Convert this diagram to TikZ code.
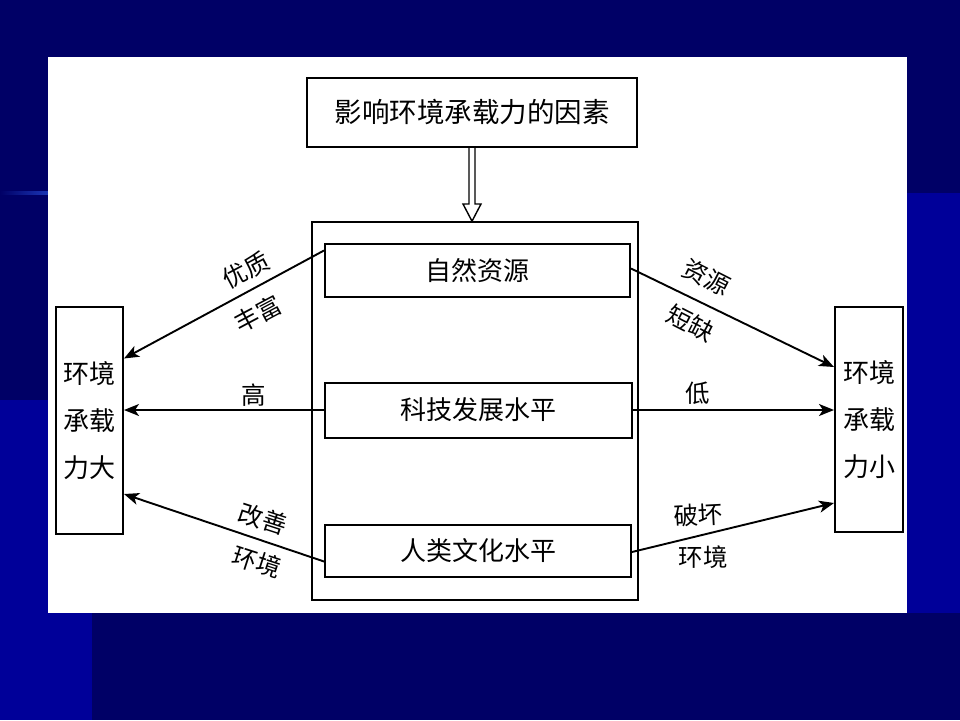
\documentclass[tikz,border=0pt]{standalone}
\usepackage{fontspec}
\newfontfamily\cjk{Noto Sans CJK SC}
\usetikzlibrary{arrows.meta,calc}
\definecolor{darkbg}{RGB}{0,0,102}
\definecolor{lightbg}{RGB}{0,0,153}
\definecolor{rule}{RGB}{51,102,255}
\begin{document}
\begin{tikzpicture}[x=1pt,y=-1pt,
  box/.style={draw, line width=2pt, fill=white, inner sep=0pt, font=\cjk\fontsize{26}{28}\selectfont},
  sidebox/.style={draw, line width=2pt, fill=white, inner sep=0pt, align=center, font=\cjk\fontsize{26}{47}\selectfont},
  conn/.style={line width=1.9pt, -{Stealth[length=15pt,width=12pt,inset=4pt]}},
  lbl/.style={inner sep=0pt, font=\cjk\fontsize{24.5}{26}\selectfont}
]
\useasboundingbox (0,0) rectangle (960,720);
% background
\fill[darkbg] (0,0) rectangle (960,720);
\fill[lightbg] (92,193) rectangle (960,613);
\fill[lightbg] (0,400) rectangle (92,720);
\shade[left color=darkbg, right color=rule] (0,191.5) rectangle (92,194);
% white panel
\fill[white] (48,57) rectangle (907,613);

% nodes
\node[box, minimum width=330, minimum height=69, font=\cjk\fontsize{27.5}{30}\selectfont] (top) at (472,112.5) {影响环境承载力的因素};
\node[draw, line width=1.6pt, minimum width=326, minimum height=378, inner sep=0pt] (outer) at (475,411) {};
\node[box, minimum width=305, minimum height=53] (n1) at (477.5,270.5) {自然资源};
\node[box, minimum width=307, minimum height=55] (n2) at (478,410) {科技发展水平};
\node[box, minimum width=306, minimum height=52] (n3) at (478,550.5) {人类文化水平};
\node[sidebox, minimum width=67, minimum height=227] (L) at (89.5,420.5) {环境\\承载\\力大};
\node[sidebox, minimum width=68, minimum height=225] (R) at (869,419.5) {环境\\承载\\力小};

% hollow double arrow
\draw[line width=1.4pt, fill=white]
  ($(top.south)+(-3,0)$) -- ($(top.south)+(-3,56)$) -- ($(top.south)+(-9,56)$)
  -- (top.south |- outer.north)
  -- ($(top.south)+(9,56)$) -- ($(top.south)+(3,56)$) -- ($(top.south)+(3,0)$);

% connectors
\draw[conn] ($(n1.west)+(0,-20)$) -- ($(L.east)+(0,-62)$);
\draw[conn] (n2.west) -- (n2.west -| L.east);
\draw[conn] ($(n3.west)+(0,11)$) -- ($(L.east)+(0,73.5)$);
\draw[conn] ($(n1.east)+(0,-2)$) -- ($(R.west)+(0,-52.5)$);
\draw[conn] (n2.east) -- (n2.east -| R.west);
\draw[conn] ($(n3.east)+(0,1.5)$) -- ($(R.west)+(0,83.5)$);

% labels
\node[lbl, rotate=28] (l1a) at (246,270) {优质};
\node[lbl, rotate=28] (l1b) at (258,314) {丰富};
\node[lbl] (l2) at (254,395) {高};
\node[lbl, rotate=-18] (l3a) at (263,519) {改善};
\node[lbl, rotate=-18] (l3b) at (257,562) {环境};
\node[lbl, rotate=-27] (r1a) at (707,277) {资源};
\node[lbl, rotate=-27] (r1b) at (691,323) {短缺};
\node[lbl] (r2) at (698,393) {低};
\node[lbl, rotate=3] (r3a) at (698,515) {破坏};
\node[lbl] (r3b) at (703,557) {环境};
\end{tikzpicture}
\end{document}
